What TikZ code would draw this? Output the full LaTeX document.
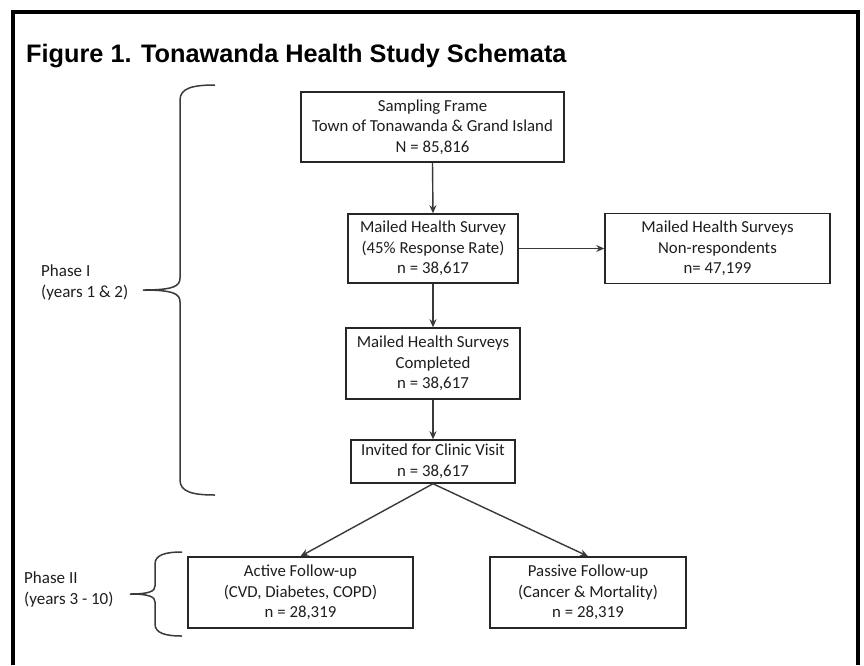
\documentclass[tikz,border=0pt]{standalone}
\usepackage{fontspec}
\setmainfont{Carlito}
\newfontfamily\titlefont{Liberation Sans}
\usetikzlibrary{arrows.meta}
\definecolor{linegray}{HTML}{3A3A3A}
\definecolor{txt}{HTML}{1E1E1E}
\tikzset{
  box/.style={draw=black!85, line width=1.5pt, fill=white, align=center, inner sep=0pt,
    text=txt, font=\fontsize{16.8}{20.6}\selectfont},
  arr/.style={draw=linegray, line width=1.4pt, -{Stealth[length=8pt,width=7pt]}},
  bracepath/.style={draw=linegray, line width=1.5pt},
  phase/.style={align=left, anchor=west, inner sep=0pt, text=txt, font=\fontsize{17}{21}\selectfont},
}
\begin{document}
\begin{tikzpicture}[x=1pt,y=-1pt]
\useasboundingbox (0,0) rectangle (864,665);
\fill[white] (0,0) rectangle (864,665);
% outer frame (open at bottom)
\draw[line width=4pt, line join=miter] (13,665) -- (13,12) -- (858,12) -- (858,665);
% title
\node[anchor=base west, inner sep=0pt, font=\titlefont\bfseries\fontsize{25.3}{30}\selectfont] (title) at (26,62) {Figure 1. Tonawanda Health Study Schemata};
% boxes
\node[box, minimum width=263pt, minimum height=70pt] (sf) at (432.5,127) {Sampling Frame\\Town of Tonawanda \& Grand Island\\N = 85,816};
\node[box, minimum width=170pt, minimum height=69pt] (mhs) at (433,248.5) {Mailed Health Survey\\(45\% Response Rate)\\n = 38,617};
\node[box, minimum width=225pt, minimum height=70pt] (nr) at (717.5,248.5) {Mailed Health Surveys\\Non-respondents\\n= 47,199};
\node[box, minimum width=174pt, minimum height=71pt] (mhsc) at (433,363.5) {Mailed Health Surveys\\Completed\\n = 38,617};
\node[box, minimum width=164pt, minimum height=43pt] (inv) at (433,461.5) {Invited for Clinic Visit\\n = 38,617};
\node[box, minimum width=225pt, minimum height=71pt] (act) at (300.5,592.5) {Active Follow-up\\(CVD, Diabetes, COPD)\\n = 28,319};
\node[box, minimum width=196pt, minimum height=71pt] (pas) at (588,592.5) {Passive Follow-up\\(Cancer \& Mortality)\\n = 28,319};
% connectors
\draw[arr] (sf.south) -- (mhs.north);
\draw[arr] (mhs.east) -- (nr.west);
\draw[arr] (mhs.south) -- (mhsc.north);
\draw[arr] (mhsc.south) -- (inv.north);
\draw[arr] (inv.south) -- (act.north);
\draw[arr] (inv.south) -- (pas.north);
% phase labels
\node[phase] (p1) at (41,282.5) {Phase I\\(years 1 \& 2)};
\node[phase] (p2) at (24,589) {Phase II\\(years 3 - 10)};
% braces
\draw[bracepath] (215,85) .. controls (193,85) and (180,88) .. (180,100) -- (180,278) .. controls (180,286) and (174,290) .. (143,290) .. controls (174,290) and (180,294) .. (180,302) -- (180,480) .. controls (180,492) and (193,495) .. (215,495);
\draw[bracepath] (182,552) .. controls (165,552) and (155,555) .. (155,564) -- (155,586) .. controls (155,591) and (150,594) .. (130,594) .. controls (150,594) and (155,597) .. (155,602) -- (155,624) .. controls (155,633) and (165,636) .. (182,636);
\end{tikzpicture}
\end{document}
